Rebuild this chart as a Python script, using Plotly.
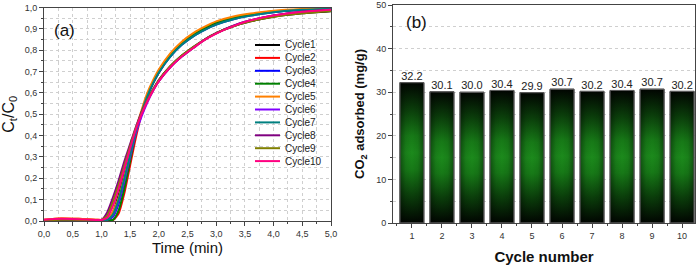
import plotly.graph_objects as go

# ---------------- data ----------------
time_min = [0, 0.3, 0.6, 0.9, 1.0, 1.1, 1.2, 1.3, 1.4, 1.5, 1.6, 1.7, 1.8, 1.9,
            2.0, 2.2, 2.4, 2.6, 2.8, 3.0, 3.3, 3.6, 4.0, 4.5, 5.0]

cycle1 = [0.004, 0.006, 0.005, 0.004, 0.004, 0.006, 0.040, 0.120, 0.220, 0.325, 0.425, 0.500, 0.565, 0.615,
          0.660, 0.725, 0.775, 0.815, 0.850, 0.880, 0.912, 0.935, 0.957, 0.973, 0.983]
cycle2 = [0.006, 0.012, 0.010, 0.006, 0.005, 0.004, 0.004, 0.035, 0.130, 0.260, 0.390, 0.500, 0.580, 0.645,
          0.695, 0.775, 0.830, 0.870, 0.900, 0.927, 0.950, 0.966, 0.980, 0.990, 0.995]
cycle3 = [0.004, 0.006, 0.005, 0.004, 0.004, 0.005, 0.020, 0.080, 0.180, 0.300, 0.420, 0.510, 0.585, 0.645,
          0.695, 0.770, 0.825, 0.865, 0.895, 0.920, 0.945, 0.962, 0.978, 0.989, 0.994]
cycle4 = [0.004, 0.006, 0.005, 0.004, 0.004, 0.004, 0.005, 0.050, 0.150, 0.280, 0.410, 0.510, 0.590, 0.650,
          0.700, 0.780, 0.835, 0.875, 0.905, 0.930, 0.953, 0.968, 0.982, 0.991, 0.995]
cycle5 = [0.006, 0.012, 0.010, 0.006, 0.005, 0.008, 0.045, 0.110, 0.210, 0.320, 0.430, 0.520, 0.600, 0.660,
          0.710, 0.785, 0.840, 0.880, 0.910, 0.935, 0.958, 0.972, 0.985, 0.993, 0.997]
cycle6 = [0.004, 0.006, 0.005, 0.004, 0.004, 0.005, 0.025, 0.090, 0.190, 0.300, 0.410, 0.490, 0.555, 0.610,
          0.655, 0.720, 0.770, 0.812, 0.850, 0.880, 0.915, 0.940, 0.962, 0.980, 0.990]
cycle7 = [0.004, 0.006, 0.005, 0.004, 0.004, 0.005, 0.030, 0.100, 0.200, 0.310, 0.420, 0.510, 0.585, 0.645,
          0.695, 0.770, 0.825, 0.865, 0.895, 0.920, 0.945, 0.962, 0.978, 0.989, 0.994]
cycle8 = [0.004, 0.006, 0.005, 0.004, 0.005, 0.040, 0.110, 0.190, 0.280, 0.360, 0.440, 0.510, 0.565, 0.615,
          0.655, 0.720, 0.770, 0.810, 0.850, 0.880, 0.915, 0.940, 0.962, 0.980, 0.990]
cycle9 = [0.004, 0.006, 0.005, 0.004, 0.005, 0.025, 0.090, 0.170, 0.260, 0.350, 0.435, 0.505, 0.565, 0.615,
          0.660, 0.725, 0.775, 0.815, 0.850, 0.880, 0.912, 0.935, 0.957, 0.973, 0.984]
cycle10 = [0.006, 0.010, 0.008, 0.005, 0.005, 0.015, 0.070, 0.150, 0.245, 0.340, 0.430, 0.500, 0.560, 0.610,
           0.655, 0.720, 0.770, 0.810, 0.848, 0.878, 0.913, 0.940, 0.962, 0.980, 0.990]

series_names = ["Cycle1", "Cycle2", "Cycle3", "Cycle4", "Cycle5",
                "Cycle6", "Cycle7", "Cycle8", "Cycle9", "Cycle10"]
series_values = [cycle1, cycle2, cycle3, cycle4, cycle5,
                 cycle6, cycle7, cycle8, cycle9, cycle10]

time_ticks = [0, 0.5, 1.0, 1.5, 2.0, 2.5, 3.0, 3.5, 4.0, 4.5, 5.0]
time_tick_labels = ["0,0", "0,5", "1,0", "1,5", "2,0", "2,5", "3,0", "3,5", "4,0", "4,5", "5,0"]
ratio_ticks = [0, 0.1, 0.2, 0.3, 0.4, 0.5, 0.6, 0.7, 0.8, 0.9, 1.0]
ratio_tick_labels = ["0,0", "0,1", "0,2", "0,3", "0,4", "0,5", "0,6", "0,7", "0,8", "0,9", "1,0"]

cycle_numbers = [1, 2, 3, 4, 5, 6, 7, 8, 9, 10]
co2_adsorbed = [32.2, 30.1, 30.0, 30.4, 29.9, 30.7, 30.2, 30.4, 30.7, 30.2]
co2_labels = ["32.2", "30.1", "30.0", "30.4", "29.9", "30.7", "30.2", "30.4", "30.7", "30.2"]

# ---------------- style ----------------
W, H = 697, 265
colors = ["#000000", "#ff0000", "#0000ff", "#008000", "#ff8000",
          "#8000ff", "#008080", "#800080", "#808000", "#ff0080"]
FONT = "Arial, Liberation Sans, sans-serif"
AX = "#444444"
GRID = "#cfcfcf"
BAR_HALF = 0.4


def px(xp):
    return xp / W


def py(yp):
    return 1 - yp / H


fig = go.Figure()

# (a) breakthrough curves
for name, vals, col in zip(series_names, series_values, colors):
    fig.add_trace(go.Scatter(x=time_min, y=vals, mode="lines", name=name,
                             line=dict(color=col, width=2, shape="spline", smoothing=0.6),
                             xaxis="x", yaxis="y", showlegend=False))

# (b) bars with gradient
for c, v in zip(cycle_numbers, co2_adsorbed):
    bx = [c - BAR_HALF, c + BAR_HALF, c + BAR_HALF, c - BAR_HALF, c - BAR_HALF]
    by = [0, 0, v, v, 0]
    fig.add_trace(go.Scatter(
        x=bx, y=by, mode="lines", fill="toself", xaxis="x2", yaxis="y2",
        line=dict(color="#5a5a5a", width=1), showlegend=False, hoverinfo="skip",
        fillgradient=dict(type="vertical",
                          colorscale=[[0, "#010501"], [0.2, "#0b400b"], [0.38, "#177a17"],
                                      [0.5, "#1c8a1c"], [0.62, "#177a17"], [0.8, "#0b400b"],
                                      [1, "#010501"]])))
    fig.add_trace(go.Scatter(
        x=bx, y=by, mode="lines", fill="toself", xaxis="x2", yaxis="y2",
        line=dict(color="#5a5a5a", width=1), showlegend=False, hoverinfo="skip",
        fillgradient=dict(type="horizontal",
                          colorscale=[[0, "rgba(0,0,0,0.4)"], [0.25, "rgba(0,0,0,0.08)"],
                                      [0.5, "rgba(0,0,0,0)"], [0.75, "rgba(0,0,0,0.08)"],
                                      [1, "rgba(0,0,0,0.4)"]])))

fig.add_trace(go.Scatter(x=cycle_numbers, y=co2_adsorbed, text=co2_labels, mode="text",
                         textposition="top center", textfont=dict(size=11, color="#222", family=FONT),
                         cliponaxis=False,
                         xaxis="x2", yaxis="y2", showlegend=False, hoverinfo="skip"))

axis_common = dict(showline=True, linecolor=AX, linewidth=1, mirror=True, ticks="outside",
                   ticklen=4, tickcolor=AX, zeroline=False, automargin=False,
                   tickfont=dict(size=9, color="#333", family=FONT))

fig.update_layout(
    width=W, height=H, margin=dict(l=0, r=0, t=0, b=0, autoexpand=False),
    paper_bgcolor="white", plot_bgcolor="white", showlegend=False,
    font=dict(family=FONT, color="#111"),
    xaxis=dict(domain=[px(44), px(331)], range=[0, 5], tickmode="array",
               tickvals=time_ticks, ticktext=time_tick_labels,
               showgrid=True, gridcolor=GRID, griddash="dot", gridwidth=1,
               minor=dict(dtick=0.25, tick0=0, ticks="outside", ticklen=2, tickcolor=AX,
                          showgrid=True, gridcolor=GRID, griddash="dot"),
               title=dict(text="Time (min)", font=dict(size=15, color="#111"), standoff=4),
               anchor="y", **axis_common),
    yaxis=dict(domain=[py(221), py(7.5)], range=[0, 1], tickmode="array",
               tickvals=ratio_ticks, ticktext=ratio_tick_labels,
               showgrid=True, gridcolor=GRID, griddash="dot", gridwidth=1,
               minor=dict(dtick=0.05, tick0=0, ticks="outside", ticklen=2, tickcolor=AX,
                          showgrid=True, gridcolor=GRID, griddash="dot"),
               title=dict(text="C<sub>t</sub>/C<sub>0</sub>", font=dict(size=16, color="#111"),
                          standoff=6),
               anchor="x", **axis_common),
    xaxis2=dict(domain=[px(393), px(695)], range=[0.37, 10.43], tickmode="array",
                tickvals=cycle_numbers, ticktext=[str(c) for c in cycle_numbers],
                showgrid=False,
                minor=dict(dtick=1, tick0=0.5, ticks="outside", ticklen=2, tickcolor=AX,
                           showgrid=False),
                title=dict(text="<b>Cycle number</b>", font=dict(size=15, color="#111"), standoff=11),
                anchor="y2", **axis_common),
    yaxis2=dict(domain=[py(223), py(5)], range=[0, 50], tickmode="linear", dtick=10, tick0=0,
                showgrid=True, gridcolor=GRID, griddash="dot", gridwidth=1,
                minor=dict(dtick=5, tick0=0, ticks="outside", ticklen=2, tickcolor=AX,
                           showgrid=True, gridcolor=GRID, griddash="dot"),
                title=dict(text="<b>CO<sub>2</sub> adsorbed (mg/g)</b>",
                           font=dict(size=13, color="#111"), standoff=8),
                anchor="x2", **axis_common),
)

# custom legend for panel (a)
legend_x0, legend_x1, legend_text_x = 255, 280, 283
legend_y0, legend_dy = 45, 12.9
for i, (name, col) in enumerate(zip(series_names, colors)):
    yy = py(legend_y0 + legend_dy * i)
    fig.add_shape(type="line", xref="paper", yref="paper", x0=px(legend_x0), x1=px(legend_x1),
                  y0=yy, y1=yy, line=dict(color=col, width=2))
    fig.add_annotation(xref="paper", yref="paper", x=px(legend_text_x), y=yy, text=name,
                       showarrow=False, xanchor="left", yanchor="middle",
                       font=dict(size=10, color="#222", family=FONT))

fig.add_annotation(xref="paper", yref="paper", x=px(52), y=py(31), text="(a)", showarrow=False,
                   xanchor="left", yanchor="middle", font=dict(size=17, color="#111", family=FONT))
fig.add_annotation(xref="paper", yref="paper", x=px(404), y=py(23), text="(b)", showarrow=False,
                   xanchor="left", yanchor="middle", font=dict(size=17, color="#111", family=FONT))

fig.write_html("out.html", config={"displayModeBar": False},
               post_script="document.body.style.margin='0';")
